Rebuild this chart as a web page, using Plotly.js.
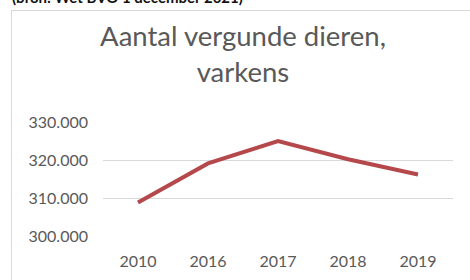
<!DOCTYPE html>
<html>
<head>
<meta charset="utf-8">
<script src="https://cdn.plot.ly/plotly-3.0.1.min.js"></script>
<style>
  html, body { margin: 0; padding: 0; background: #fff; overflow: hidden; }
  #wrap { position: relative; width: 470px; height: 280px; overflow: hidden; }
  #box { position: absolute; left: 11px; top: 10px; width: 470px; height: 290px; border: 1px solid #d9d9d9; box-sizing: border-box; }
  #src { position: absolute; left: 12px; top: -12px; font-family: Lato, sans-serif; font-weight: bold; font-size: 15px; color: #111; white-space: nowrap; }
  #chart { position: absolute; left: 0; top: 0; width: 470px; height: 280px; }
</style>
</head>
<body>
<div id="wrap">
  <div id="src">(bron: Wet BVO 1 december 2021)</div>
  <div id="box"></div>
  <div id="chart"></div>
</div>
<script>
const years = ['2010', '2016', '2017', '2018', '2019'];
const pigs = [308800, 319100, 325000, 320200, 316200];
const yTicks = [300000, 310000, 320000, 330000];

const trace = {
  x: years,
  y: pigs,
  type: 'scatter',
  mode: 'lines',
  line: { color: '#b5484b', width: 4 },
  hoverinfo: 'skip'
};

const layout = {
  width: 470,
  height: 280,
  margin: { l: 103, r: 17, t: 122, b: 44 },
  paper_bgcolor: 'rgba(0,0,0,0)',
  plot_bgcolor: 'rgba(0,0,0,0)',
  separators: ',.',
  showlegend: false,
  title: {
    text: 'Aantal vergunde dieren,<br>varkens',
    font: { family: 'Lato, sans-serif', size: 27.5, color: '#595959' },
    x: 0.517, xanchor: 'center',
    y: 0.834, yanchor: 'top'
  },
  xaxis: {
    type: 'category',
    range: [-0.5, 4.5],
    showgrid: false,
    zeroline: false,
    showline: false,
    ticks: '',
    ticklabelstandoff: 14,
    tickfont: { family: 'Lato, sans-serif', size: 16, color: '#595959' },
    fixedrange: true
  },
  yaxis: {
    range: [300000, 330000],
    tickvals: yTicks,
    tickformat: ',.0f',
    showgrid: true,
    gridcolor: '#d9d9d9',
    gridwidth: 1,
    zeroline: false,
    showline: false,
    ticks: '',
    ticklabelstandoff: 14,
    tickfont: { family: 'Lato, sans-serif', size: 16, color: '#595959' },
    fixedrange: true
  }
};

Plotly.newPlot('chart', [trace], layout, { displayModeBar: false, staticPlot: true });
</script>
</body>
</html>
